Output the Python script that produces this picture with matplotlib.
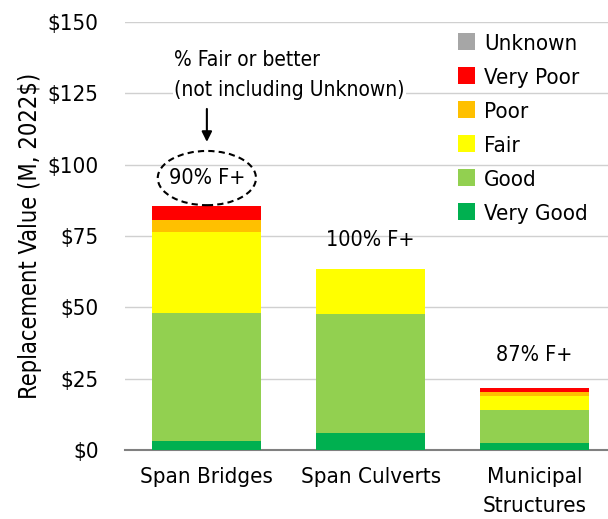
import matplotlib.pyplot as plt
from matplotlib.patches import Ellipse

plt.rcParams['font.family'] = ['DejaVu Sans']
plt.rcParams['font.stretch'] = 'condensed'

categories = ['Span Bridges', 'Span Culverts', 'Municipal\nStructures']
conditions = ['Very Good', 'Good', 'Fair', 'Poor', 'Very Poor', 'Unknown']
colors = ['#00B050', '#92D050', '#FFFF00', '#FFC000', '#FF0000', '#A6A6A6']
values = {
    'Very Good': [3.0, 6.1, 2.3],
    'Good': [45.1, 41.6, 11.7],
    'Fair': [28.4, 15.6, 4.9],
    'Poor': [4.0, 0.0, 1.5],
    'Very Poor': [5.0, 0.0, 1.2],
    'Unknown': [0.0, 0.0, 0.0],
}
pct_labels = ['90% F+', '100% F+', '87% F+']
yticks = [0, 25, 50, 75, 100, 125, 150]

fig = plt.figure(figsize=(6.08, 5.19), dpi=100)
ax = fig.add_axes([0.2056, 0.133, 0.7944, 0.8246])

x = range(len(categories))
bottom = [0.0] * len(categories)
for cond, col in zip(conditions, colors):
    ax.bar(x, values[cond], bottom=bottom, width=0.665, color=col, label=cond, zorder=3)
    bottom = [b + v for b, v in zip(bottom, values[cond])]

ax.set_xlim(-0.5, 2.45)
ax.set_ylim(0, 150)
ax.set_yticks(yticks)
ax.set_yticklabels(['$%d' % t for t in yticks])
ax.set_xticks(list(x))
ax.set_xticklabels(categories, linespacing=1.6)
ax.tick_params(axis='both', length=0, labelsize=16)
ax.tick_params(axis='y', pad=19)
ax.tick_params(axis='x', pad=12)
ax.grid(axis='y', color='#d0d0d0', linewidth=1, zorder=0)
for s in ['top', 'right', 'left']:
    ax.spines[s].set_visible(False)
ax.spines['bottom'].set_color('#808080')
ax.spines['bottom'].set_linewidth(1.5)
ax.set_ylabel('Replacement Value (M, 2022$)', fontsize=17, labelpad=4)

# percent fair or better labels
offsets = [9.8, 10.3, 11.7]
for i, (tot, lab) in enumerate(zip(bottom, pct_labels)):
    ax.text(i, tot + offsets[i], lab, ha='center', va='center', fontsize=15.5, zorder=5)

ax.add_patch(Ellipse((0, 95.3), 0.6, 19, fill=False, linestyle=(0, (3, 2)),
                     linewidth=1.5, edgecolor='black', zorder=4))
ax.annotate('', xy=(0, 107), xytext=(0, 120.5),
            arrowprops=dict(arrowstyle='-|>', color='black', lw=1.5, mutation_scale=15))
ax.text(-0.2, 131.5, '% Fair or better\n(not including Unknown)', ha='left', va='center',
        fontsize=15, linespacing=1.6, bbox=dict(facecolor='white', edgecolor='none', pad=1))

handles, labels = ax.get_legend_handles_labels()
ax.legend(handles[::-1], labels[::-1], loc='upper right', bbox_to_anchor=(1.0, 1.02),
          frameon=False, fontsize=16, handlelength=0.8, handleheight=0.8,
          handletextpad=0.4, labelspacing=0.62)

fig.savefig('out.png', dpi=100)
